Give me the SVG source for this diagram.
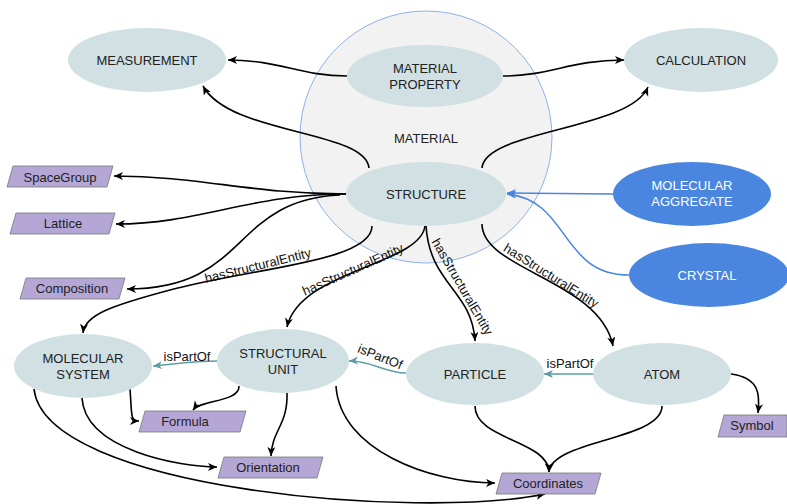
<svg xmlns="http://www.w3.org/2000/svg" width="787" height="504" viewBox="0 0 787 504">
<defs>
<style>
.n{fill:#d0e0e3;}
.b{fill:#4a86e0;}
.p{fill:#b4a7d6;stroke:#777;stroke-width:0.8;}
.t{font-family:"Liberation Sans",Arial,Helvetica,sans-serif;font-size:13px;fill:#222;text-anchor:middle;}
.w{fill:#fff;}
.e{fill:none;stroke:#000;stroke-width:1.6;}
.eb{fill:none;stroke:#4a86e0;stroke-width:1.6;}
.et{fill:none;stroke:#5d9ca6;stroke-width:1.6;}
.l{font-family:"Liberation Sans",Arial,Helvetica,sans-serif;font-size:13px;fill:#111;text-anchor:middle;}
</style>
<marker id="ak" markerWidth="10" markerHeight="10" refX="9" refY="4" orient="auto" markerUnits="userSpaceOnUse"><path d="M0,0 L9,4 L0,8 L2.5,4 z" fill="#000"/></marker>
<marker id="ab" markerWidth="10" markerHeight="10" refX="9" refY="4" orient="auto" markerUnits="userSpaceOnUse"><path d="M0,0 L9,4 L0,8 L2.5,4 z" fill="#4a86e0"/></marker>
<marker id="at" markerWidth="10" markerHeight="10" refX="9" refY="4" orient="auto" markerUnits="userSpaceOnUse"><path d="M0,0 L9,4 L0,8 L2.5,4 z" fill="#5d9ca6"/></marker>
</defs>
<rect width="787" height="504" fill="#fff"/>
<g id="material">
<circle cx="426" cy="137" r="126" fill="#f2f2f2" stroke="#8fb0e8" stroke-width="1"/>
<text class="t" x="426" y="143">MATERIAL</text>
</g>
<g id="connectors">
<path class="e" d="M347,76 C300,76 280,60 228,60" marker-end="url(#ak)"/>
<path class="e" d="M503,76 C550,76 570,60 624,60" marker-end="url(#ak)"/>
<path class="e" d="M369,168 C365,130 230,135 203,86" marker-end="url(#ak)"/>
<path class="e" d="M482,168 C485,130 630,130 648,87" marker-end="url(#ak)"/>
<path class="e" d="M346,194 C250,194 200,176 114,176" marker-end="url(#ak)"/>
<path class="e" d="M346,194 C250,194 200,224 116,224" marker-end="url(#ak)"/>
<path class="e" d="M340,195 C230,200 250,289 127,289" marker-end="url(#ak)"/>
<path class="e" d="M372,226 C372,262 250,268 170,290 C110,306 85,315 83,333" marker-end="url(#ak)"/>
<path class="e" d="M425,226 C420,265 300,270 287,327" marker-end="url(#ak)"/>
<path class="e" d="M426,226 C430,285 472,290 475,341" marker-end="url(#ak)"/>
<path class="e" d="M482,224 C482,270 600,280 613,346" marker-end="url(#ak)"/>
<path class="eb" d="M613,194 C580,194 540,193 507,193" marker-end="url(#ab)"/>
<path class="eb" d="M629,275 C560,275 570,200 507,194" marker-end="url(#ab)"/>
<path class="et" d="M218,361 C195,361 175,364 153,366" marker-end="url(#at)"/>
<path class="et" d="M406,373 C385,373 370,360 349,361" marker-end="url(#at)"/>
<path class="et" d="M593,374 L544,374" marker-end="url(#at)"/>
<path class="e" d="M130,389 C132,415 130,421 139,421" marker-end="url(#ak)"/>
<path class="e" d="M239,386 C240,402 200,400 193,410" marker-end="url(#ak)"/>
<path class="e" d="M287,393 C288,425 272,430 271,456" marker-end="url(#ak)"/>
<path class="e" d="M82,398 C85,450 180,467 217,467" marker-end="url(#ak)"/>
<path class="e" d="M34,389 C45,490 420,520 545,494" marker-end="url(#ak)"/>
<path class="e" d="M336,386 C340,450 430,483 495,483" marker-end="url(#ak)"/>
<path class="e" d="M475,406 C475,440 548,440 549,472" marker-end="url(#ak)"/>
<path class="e" d="M662,406 C662,440 552,440 549,472" marker-end="url(#ak)"/>
<path class="e" d="M731,374 C760,378 760,395 758,413" marker-end="url(#ak)"/>
<text class="l" transform="translate(258,266) rotate(-14)" y="4">hasStructuralEntity</text>
<text class="l" transform="translate(353,270) rotate(-24)" y="4">hasStructuralEntity</text>
<text class="l" transform="translate(462,287) rotate(60)" y="4">hasStructuralEntity</text>
<text class="l" transform="translate(551,276) rotate(32)" y="4">hasStructuralEntity</text>
<text class="l" x="187" y="361">isPartOf</text>
<text class="l" transform="translate(380,357) rotate(22)" y="4">isPartOf</text>
<text class="l" x="570" y="368">isPartOf</text>
</g>
<g id="measurement"><ellipse class="n" cx="147" cy="60" rx="79" ry="32"/><text class="t" x="147" y="65">MEASUREMENT</text></g>
<g id="calculation"><ellipse class="n" cx="701" cy="60" rx="77" ry="32"/><text class="t" x="701" y="65">CALCULATION</text></g>
<g id="material-property"><ellipse class="n" cx="425" cy="76" rx="78" ry="31"/><text class="t" x="425" y="73">MATERIAL</text><text class="t" x="425" y="89">PROPERTY</text></g>
<g id="structure"><ellipse class="n" cx="426" cy="194" rx="80" ry="32"/><text class="t" x="426" y="199">STRUCTURE</text></g>
<g id="molecular-aggregate"><ellipse class="b" cx="692" cy="194" rx="79" ry="32"/><text class="t w" x="692" y="190">MOLECULAR</text><text class="t w" x="692" y="206">AGGREGATE</text></g>
<g id="crystal"><ellipse class="b" cx="709" cy="275" rx="80" ry="32"/><text class="t w" x="707" y="280">CRYSTAL</text></g>
<g id="molecular-system"><ellipse class="n" cx="83" cy="366" rx="69" ry="32"/><text class="t" x="83" y="363">MOLECULAR</text><text class="t" x="83" y="379">SYSTEM</text></g>
<g id="structural-unit"><ellipse class="n" cx="283" cy="361" rx="66" ry="32"/><text class="t" x="283" y="358">STRUCTURAL</text><text class="t" x="283" y="374">UNIT</text></g>
<g id="particle"><ellipse class="n" cx="475" cy="374" rx="69" ry="31"/><text class="t" x="475" y="379">PARTICLE</text></g>
<g id="atom"><ellipse class="n" cx="662" cy="374" rx="69" ry="31"/><text class="t" x="662" y="379">ATOM</text></g>
<g id="spacegroup"><polygon class="p" points="13,166 113,166 107,187 7,187"/><text class="t" x="60" y="182">SpaceGroup</text></g>
<g id="lattice"><polygon class="p" points="16,213 115,213 109,234 10,234"/><text class="t" x="63" y="228">Lattice</text></g>
<g id="composition"><polygon class="p" points="26,278 125,278 119,299 20,299"/><text class="t" x="72" y="293">Composition</text></g>
<g id="formula"><polygon class="p" points="145,411 246,411 240,432 139,432"/><text class="t" x="185" y="426">Formula</text></g>
<g id="orientation"><polygon class="p" points="224,457 323,457 317,478 218,478"/><text class="t" x="268" y="472">Orientation</text></g>
<g id="coordinates"><polygon class="p" points="502,473 601,473 595,494 496,494"/><text class="t" x="548" y="488">Coordinates</text></g>
<g id="symbol"><polygon class="p" points="724,415 787,415 787,437 718,437"/><text class="t" x="752" y="430">Symbol</text></g>
</svg>
